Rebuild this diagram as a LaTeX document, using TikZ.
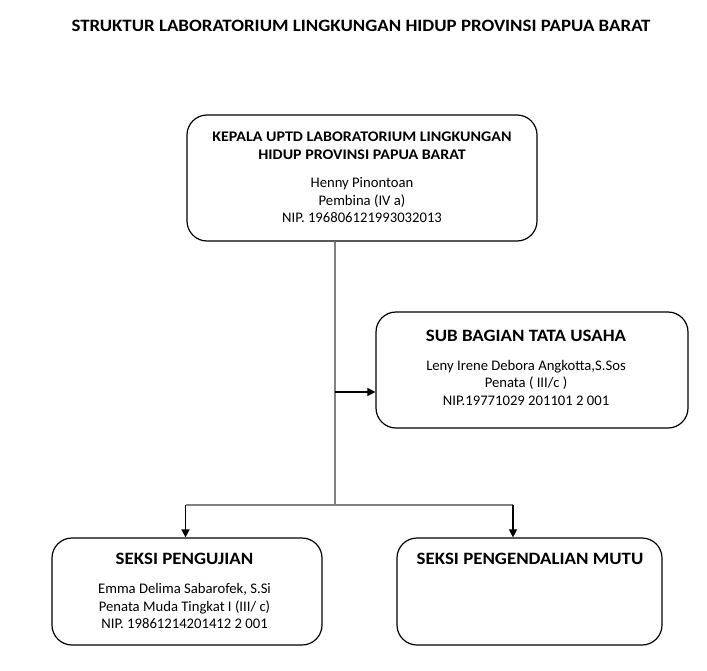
\documentclass[tikz,border=0pt]{standalone}
\usepackage{fontspec}
\setmainfont{Carlito}[BoldFeatures={FakeStretch=1.09}]
\usetikzlibrary{arrows.meta}
\begin{document}
\begin{tikzpicture}[x=0.75pt, y=-0.75pt, line width=0.9pt,
  unit box/.style={draw=black, rounded corners=15pt, inner sep=0pt},
  head text/.style={font=\fontsize{13}{15}\selectfont\bfseries, align=center, inner sep=0pt, anchor=north},
  body text/.style={font=\fontsize{11}{13.1}\selectfont, align=center, inner sep=0pt, anchor=north},
  trunk/.style={draw=black!50, line width=1.3pt},
  branch/.style={draw=black, line width=1pt, -{Triangle[length=6pt,width=6pt]}}]
\useasboundingbox (0,0) rectangle (707,671);
% title
\node [head text] (title) at (361,20) {STRUKTUR LABORATORIUM LINGKUNGAN HIDUP PROVINSI PAPUA BARAT};
% boxes
\node [unit box, minimum width=350*0.75pt, minimum height=126*0.75pt] (kepala) at (362,178) {};
\node [unit box, minimum width=312*0.75pt, minimum height=116*0.75pt] (subbag) at (532,370) {};
\node [unit box, minimum width=270*0.75pt, minimum height=107*0.75pt] (uji) at (187,591.5) {};
\node [unit box, minimum width=265*0.75pt, minimum height=107*0.75pt] (mutu) at (529.5,591.5) {};
% texts
\node [head text, font=\fontsize{11}{13.2}\selectfont\bfseries] (kepalahead) at (362,131.5) {KEPALA UPTD LABORATORIUM LINGKUNGAN\\HIDUP PROVINSI PAPUA BARAT};
\node [body text] (kepalabody) at (362,177) {Henny Pinontoan\\Pembina (IV a)\\NIP. 196806121993032013};
\node [head text] (subbaghead) at (526,330) {SUB BAGIAN TATA USAHA};
\node [body text] (subbagbody) at (526,359.5) {Leny Irene Debora Angkotta,S.Sos\\Penata ( III/c )\\NIP.19771029 201101 2 001};
\node [head text] (ujihead) at (184.5,553) {SEKSI PENGUJIAN};
\node [body text] (ujibody) at (184.5,583) {Emma Delima Sabarofek, S.Si\\Penata Muda Tingkat I (III/ c)\\NIP. 19861214201412 2 001};
\node [head text] (mutuhead) at (530,553) {SEKSI PENGENDALIAN MUTU};
% connectors
\coordinate (fork) at (335,505);
\coordinate (side) at (335,392);
\coordinate (forkl) at (185.5,505);
\coordinate (forkr) at (513,505);
\path [trunk] (kepala.south -| fork) -- (fork)
      (forkl) -- (forkr);
\path [branch] (side) -- (side -| subbag.west);
\path [branch] (forkl) -- (forkl |- uji.north);
\path [branch] (forkr) -- (forkr |- mutu.north);
\end{tikzpicture}
\end{document}
